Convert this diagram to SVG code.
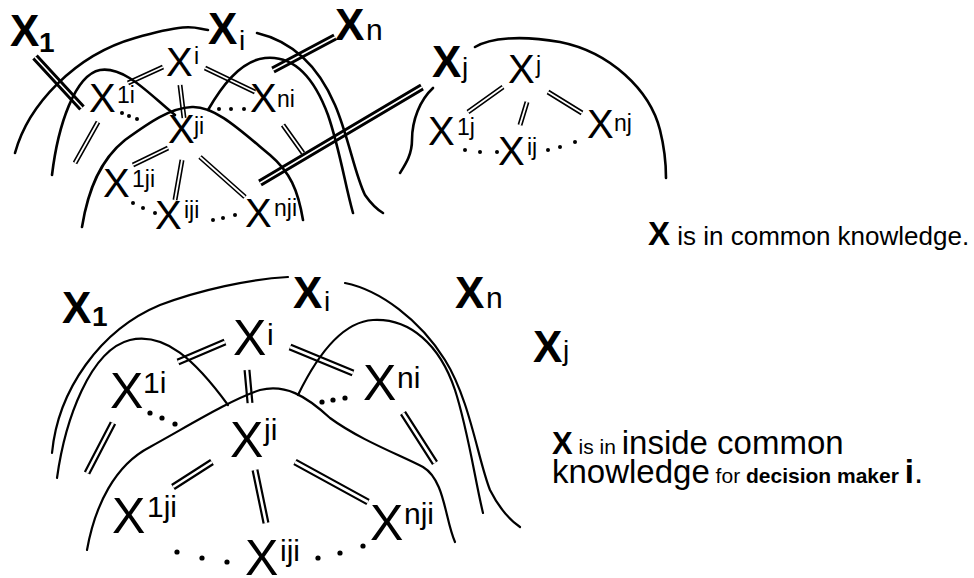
<svg xmlns="http://www.w3.org/2000/svg" xmlns:xlink="http://www.w3.org/1999/xlink" width="974" height="578" viewBox="0 0 974 578">
<style>
text{font-family:"Liberation Sans",Arial,Helvetica,sans-serif;fill:#000}
.bx{font-weight:bold;font-size:44px}
.bs{font-weight:bold;font-size:28px}
.rs{font-size:28px}
.tx{font-size:40px}
.ts{font-size:23px}
.lx{font-size:50px}
.ls{font-size:30px}
.crv{fill:none;stroke:#000;stroke-width:2.6;stroke-linecap:round}
.crv2{fill:none;stroke:#000;stroke-width:2.2;stroke-linecap:round}
.o1{fill:none;stroke:#000;stroke-width:5}
.i1{fill:none;stroke:#fff;stroke-width:1.8}
.o2{fill:none;stroke:#000;stroke-width:7.5}
.i2{fill:none;stroke:#fff;stroke-width:1.6}
.o3{fill:none;stroke:#000;stroke-width:7}
.i3{fill:none;stroke:#fff;stroke-width:2.6}
.dot{fill:#000}
</style>
<defs>
<path id="thinTop" d="M128,83 L163,67 M205,68 L255,92 M180,85 L184,118 M75,163 L98,122 M133,165 L168,148 M182,160 L175,200 M200,157 L245,197 M283,125 L303,153 M468,112 L503,87 M520,125 L527,102 M548,92 L582,113"/>
<path id="thickTop" d="M35,57 L82,108 M273,70 L335,37 M260,183 L422,87"/>
<path id="thinBot" d="M178,362 L225,342 M290,347 L353,373 M247,370 L250,403 M113,423 L87,473 M403,413 L435,463 M212,462 L173,487 M255,470 L266,523 M295,462 L368,502"/>
</defs>

<g id="connectors">
<use xlink:href="#thinTop" class="o1"/>
<use xlink:href="#thinTop" class="i1"/>
<use xlink:href="#thickTop" class="o2"/>
<use xlink:href="#thickTop" class="i2"/>
<use xlink:href="#thinBot" class="o3"/>
<use xlink:href="#thinBot" class="i3"/>
<!-- top curves -->
<path class="crv" d="M15,153 C28,105 75,55 135,38 S195,29 208,30"/>
<path class="crv" d="M257,33 C295,42 320,70 335,105 C348,135 355,175 365,195 C372,205 378,210 383,213"/>
<path class="crv" d="M208,110 C225,80 245,60 265,58 C295,55 315,80 328,115 C340,150 345,185 353,213"/>
<path class="crv" d="M52,175 C58,125 75,75 100,70 C125,66 150,95 175,115"/>
<path class="crv" d="M82,227 C88,190 100,160 125,140 C150,122 170,108 192,107 C215,106 240,130 270,155 C290,172 298,190 303,220"/>
<path class="crv" d="M433,88 C420,100 412,120 412,140 C412,155 405,165 400,173"/>
<path class="crv" d="M475,47 C490,38 520,35 560,42 C610,52 650,90 660,130 C665,150 666,165 666,178"/>
<!-- bottom curves -->
<path class="crv2" d="M52,453 C58,390 100,330 160,305 C200,290 250,279 288,277"/>
<path class="crv2" d="M345,283 C380,290 420,320 445,360 C470,400 478,460 490,490 C500,510 510,520 520,527"/>
<path class="crv2" d="M57,478 C65,420 90,350 130,340 C165,332 195,360 228,405"/>
<path class="crv2" d="M87,550 C95,505 115,465 150,447 C190,425 230,400 260,390 C285,384 305,395 330,418 C360,440 400,455 423,467 C445,480 445,520 455,542"/>
<path class="crv2" d="M298,395 C315,360 340,322 373,320 C410,318 440,345 455,390 C468,430 475,480 483,513"/>
<!-- dots -->
<g class="dot">
<circle cx="122" cy="113" r="2"/><circle cx="129" cy="116" r="2"/><circle cx="137" cy="119" r="2"/>
<circle cx="219" cy="109" r="2"/><circle cx="231" cy="109" r="2"/><circle cx="244" cy="109" r="2"/>
<circle cx="133" cy="203" r="2"/><circle cx="143" cy="208" r="2"/><circle cx="155" cy="213" r="2"/>
<circle cx="213" cy="220" r="2"/><circle cx="223" cy="218" r="2"/><circle cx="235" cy="215" r="2"/>
<circle cx="465" cy="150" r="2"/><circle cx="480" cy="152" r="2"/><circle cx="497" cy="152" r="2"/>
<circle cx="548" cy="150" r="2"/><circle cx="560" cy="147" r="2"/><circle cx="575" cy="142" r="2"/>
<circle cx="150" cy="413" r="2.6"/><circle cx="162" cy="418" r="2.6"/><circle cx="175" cy="424" r="2.6"/>
<circle cx="322" cy="402" r="2.6"/><circle cx="333" cy="400" r="2.6"/><circle cx="345" cy="398" r="2.6"/>
<circle cx="177" cy="552" r="2.6"/><circle cx="202" cy="558" r="2.6"/><circle cx="227" cy="562" r="2.6"/>
<circle cx="318" cy="558" r="2.6"/><circle cx="340" cy="553" r="2.6"/><circle cx="363" cy="546" r="2.6"/>
</g>
</g>

<!-- top labels -->
<g id="t-X1"><text x="10" y="46" class="bx">X</text><text x="39" y="52" class="bs">1</text></g>
<g id="t-Xi"><text x="208" y="44" class="bx">X</text><text x="239" y="50" class="rs">i</text></g>
<g id="t-Xn"><text x="335" y="40" class="bx">X</text><text x="366" y="40" style="font-size:30px">n</text></g>
<g id="t-Xj"><text x="432" y="77" class="bx">X</text><text x="462" y="77" class="rs">j</text></g>

<g id="t-xi"><text x="166" y="76" class="tx">X</text><text x="194" y="64" class="ts">i</text></g>
<g id="t-x1i"><text x="89" y="112" class="tx">X</text><text x="117" y="103" class="ts">1i</text></g>
<g id="t-xni"><text x="250" y="112" class="tx">X</text><text x="277" y="107" class="ts">ni</text></g>
<g id="t-xji"><text x="168" y="143" class="tx">X</text><text x="194" y="134" class="ts">ji</text></g>
<g id="t-x1ji"><text x="103" y="197" class="tx">X</text><text x="132" y="187" class="ts">1ji</text></g>
<g id="t-xiji"><text x="155" y="229" class="tx">X</text><text x="184" y="218" class="ts">iji</text></g>
<g id="t-xnji"><text x="245" y="227" class="tx">X</text><text x="274" y="216" class="ts">nji</text></g>
<g id="t-xj"><text x="508" y="83" class="tx">X</text><text x="536" y="73" class="ts">j</text></g>
<g id="t-x1j"><text x="428" y="145" class="tx">X</text><text x="457" y="135" class="ts">1j</text></g>
<g id="t-xij"><text x="498" y="165" class="tx">X</text><text x="527" y="155" class="ts">ij</text></g>
<g id="t-xnj"><text x="587" y="138" class="tx">X</text><text x="614" y="131" class="ts">nj</text></g>

<!-- bottom labels -->
<g id="b-X1"><text x="62" y="323" class="bx">X</text><text x="92" y="326" class="bs">1</text></g>
<g id="b-Xi"><text x="293" y="308" class="bx">X</text><text x="324" y="311" class="rs">i</text></g>
<g id="b-Xn"><text x="455" y="308" class="bx">X</text><text x="486" y="308" style="font-size:30px">n</text></g>
<g id="b-Xj"><text x="533" y="362" class="bx">X</text><text x="563" y="360" class="rs">j</text></g>

<g id="b-xi"><text x="233" y="355" class="lx">X</text><text x="267" y="345" class="ls">i</text></g>
<g id="b-x1i"><text x="110" y="408" class="lx">X</text><text x="143" y="393" class="ls">1i</text></g>
<g id="b-xni"><text x="363" y="400" class="lx">X</text><text x="397" y="388" class="ls">ni</text></g>
<g id="b-xji"><text x="230" y="457" class="lx">X</text><text x="264" y="440" class="ls">ji</text></g>
<g id="b-x1ji"><text x="112" y="533" class="lx">X</text><text x="147" y="517" class="ls">1ji</text></g>
<g id="b-xiji"><text x="245" y="575" class="lx">X</text><text x="280" y="561" class="ls">iji</text></g>
<g id="b-xnji"><text x="370" y="540" class="lx">X</text><text x="404" y="524" class="ls">nji</text></g>

<!-- captions -->
<g id="caption1"><text x="648" y="245" style="font-size:26px"><tspan style="font-weight:bold;font-size:33px">X</tspan> is in common knowledge.</text></g>
<g id="caption2">
<text x="552" y="454"><tspan style="font-weight:bold;font-size:31px">X</tspan><tspan style="font-size:21px"> is in </tspan><tspan style="font-size:33px">inside common</tspan></text>
<text x="552" y="483"><tspan style="font-size:33px">knowledge</tspan><tspan style="font-size:21px"> for </tspan><tspan style="font-size:21px;font-weight:bold">decision maker </tspan><tspan style="font-size:33px;font-weight:bold">i</tspan><tspan style="font-size:33px">.</tspan></text>
</g>
</svg>
